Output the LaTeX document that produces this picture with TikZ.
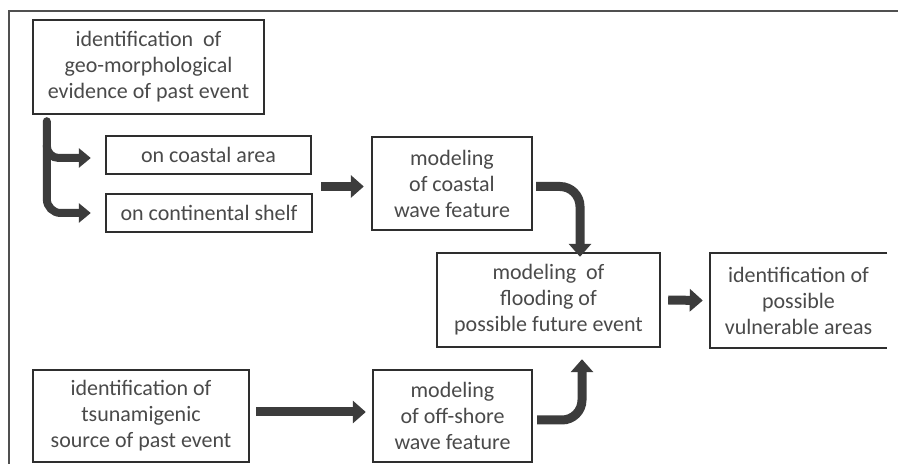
\documentclass[tikz,border=0pt]{standalone}
\usepackage{fontspec}
\setmainfont{Carlito}
\usetikzlibrary{arrows.meta,calc}
\definecolor{txt}{HTML}{4A4A4A}
\definecolor{boxc}{HTML}{2E2E2E}
\definecolor{arr}{HTML}{3C3C3C}
\definecolor{frm}{HTML}{505050}
\begin{document}
\begin{tikzpicture}[x=1pt,y=1pt,
  box/.style={draw=boxc, line width=2.4pt, rectangle, align=center, inner sep=0pt,
    text=txt, font=\fontsize{22pt}{26pt}\selectfont},
  bigarrow/.style={draw=arr, line width=9pt, -{Triangle[length=13pt,width=22pt]}},
  smallarrow/.style={draw=arr, line width=8pt, -{Triangle[length=12pt,width=19pt]}}
]
\useasboundingbox (0,0) rectangle (898,464);
\fill[white] (0,0) rectangle (898,464);
% outer frame
\coordinate (fb) at (9,0);
\coordinate (ft) at (9,453);
\coordinate (fr) at (898,453);
\draw[frm, line width=1.5pt] (fb) -- (ft) -- (fr);

\node[box, minimum width=231pt, minimum height=94pt] (A) at (148.5,397)
  {identification\ \ of\\geo-morphological\\evidence of past event};
\node[box, minimum width=205pt, minimum height=38pt] (B) at (208.5,309) {on coastal area};
\node[box, minimum width=206pt, minimum height=38pt] (C) at (209,251) {on continental shelf};
\node[box, minimum width=160pt, minimum height=93pt] (D) at (452,280.5)
  {modeling\\of coastal\\wave feature};
\node[box, minimum width=223pt, minimum height=94pt] (E) at (548.5,164)
  {modeling\ \ of\\flooding of\\possible future event};
\node[box, draw=none, minimum width=175pt, minimum height=93pt] (F) at (798.5,163.5)
  {identification of\\possible\\vulnerable areas};
\draw[boxc, line width=2.4pt] (F.north east) -- (F.north west) -- (F.south west) -- (F.south east);
\node[box, minimum width=216pt, minimum height=92pt] (G) at (141,48)
  {identification of\\tsunamigenic\\source of past event};
\node[box, minimum width=159pt, minimum height=92pt] (H) at (452.5,48)
  {modeling\\of off-shore\\wave feature};

% branch arrows from A
\draw[smallarrow, line cap=round, rounded corners=14pt]
  ($(A.south west)+(15,-6)$) |- ($(C.west)+(-14,0)$);
\draw[smallarrow, rounded corners=12pt]
  ($(A.south west)+(15,-30)$) |- ($(B.west)+(-14,-3)$);
% to coastal modeling
\draw[bigarrow] ($(C.east|-D.west)+(8,-3)$) -- ($(D.west)+(-7,-3)$);
% D to E
\draw[bigarrow, rounded corners=20pt]
  ($(D.east)+(3,-3)$) -| ($(E.north)+(31.5,-5)$);
% E to F
\draw[bigarrow] ($(E.east)+(7,0)$) -- ($(F.west)+(-7,0)$);
% G to H
\draw[bigarrow] ($(G.east)+(6,4)$) -- ($(H.west)+(-6,4)$);
% H to E
\draw[bigarrow, rounded corners=20pt]
  ($(H.east)+(4,-4)$) -| ($(E.south)+(33.5,-11)$);
\end{tikzpicture}
\end{document}
